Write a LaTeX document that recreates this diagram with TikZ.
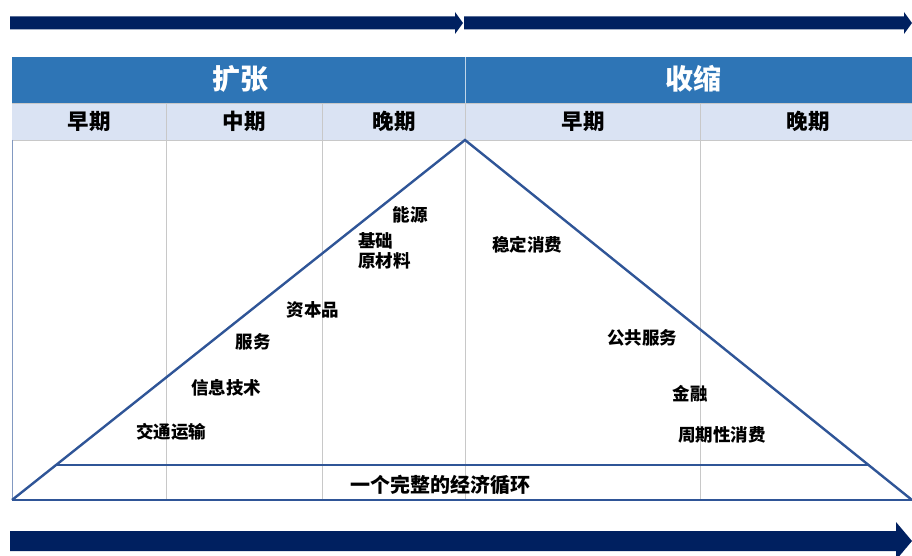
\documentclass[tikz,border=0pt]{standalone}
\usepackage{fontspec}
\newfontfamily\cjk{Noto Sans CJK SC}
\usetikzlibrary{arrows.meta}
\definecolor{navy}{HTML}{002060}
\definecolor{hdrblue}{HTML}{2E75B6}
\definecolor{subblue}{HTML}{DAE3F3}
\definecolor{triblue}{HTML}{2F5597}
\definecolor{grid}{HTML}{C8C8C8}
\tikzset{
  lbl/.style={font=\cjk\bfseries\fontsize{17.5}{20}\selectfont, text=black, inner sep=1pt},
  sublbl/.style={font=\cjk\bfseries\fontsize{21.5}{24}\selectfont, text=black},
  hdr/.style={font=\cjk\bfseries\fontsize{28}{32}\selectfont, text=white},
  gridline/.style={draw=grid, line width=0.9pt},
  tri/.style={draw=triblue, line width=2.4pt, line join=miter},
}
\begin{document}
\begin{tikzpicture}[x=1pt,y=-1pt]
\useasboundingbox (0,0) rectangle (912,556);
% top arrows
\fill[navy] (10,16.5) -- (455,16.5) -- (455,12) -- (463,23) -- (455,34) -- (455,29.5) -- (10,29.5) -- cycle;
\fill[navy] (464,16.5) -- (904,16.5) -- (904,12) -- (912,23) -- (904,34) -- (904,29.5) -- (464,29.5) -- cycle;
% header
\fill[hdrblue] (12,57) rectangle (912,103);
\draw[white!70!hdrblue, line width=0.6pt] (465,57) -- (465,103);
\fill[subblue] (12,103) rectangle (912,140);
\draw[grid, line width=0.8pt] (12,103) -- (912,103);
\draw[grid, line width=0.8pt] (12,140) -- (912,140);
\node[hdr] (expand) at (240,79) {扩张};
\node[hdr] (contract) at (693,79) {收缩};
\node[sublbl] (s1) at (89,121) {早期};
\node[sublbl] (s2) at (244,121) {中期};
\node[sublbl] (s3) at (394,121) {晚期};
\node[sublbl] (s4) at (583,121) {早期};
\node[sublbl] (s5) at (808,121) {晚期};
% grid lines
\foreach \xx in {166,322,465,700} \draw[gridline] (\xx,103) -- (\xx,500);
\draw[triblue!60, line width=0.8pt] (12,140) -- (12,500);
% triangle
\coordinate (apex) at (465,140);
\coordinate (bl) at (12,500);
\coordinate (br) at (912,500);
\coordinate (il) at (56,465);
\coordinate (ir) at (868,465);
\draw[tri] (bl) -- (apex) -- (br);
\draw[tri] (bl) -- (br);
\draw[triblue, line width=1.6pt] (il) -- (ir);
\node[lbl, font=\cjk\bfseries\fontsize{20}{22}\selectfont] (cycle) at (440,485) {一个完整的经济循环};
% labels
\node[lbl] (energy) at (410,215) {能源};
\node[lbl, anchor=west] (basic1) at (357,241) {基础};
\node[lbl, anchor=west] (basic2) at (357,261) {原材料};
\node[lbl] (capital) at (313,310) {资本品};
\node[lbl] (service) at (253,342) {服务};
\node[lbl] (it) at (226,388) {信息技术};
\node[lbl] (transport) at (171,432) {交通运输};
\node[lbl] (staples) at (527,245) {稳定消费};
\node[lbl] (utilities) at (642,338) {公共服务};
\node[lbl] (finance) at (690,394) {金融};
\node[lbl] (cyclical) at (722,435) {周期性消费};
% bottom arrow
\fill[navy] (10,531) -- (896,531) -- (896,522) -- (912,541) -- (896,560) -- (896,551) -- (10,551) -- cycle;
\end{tikzpicture}
\end{document}
